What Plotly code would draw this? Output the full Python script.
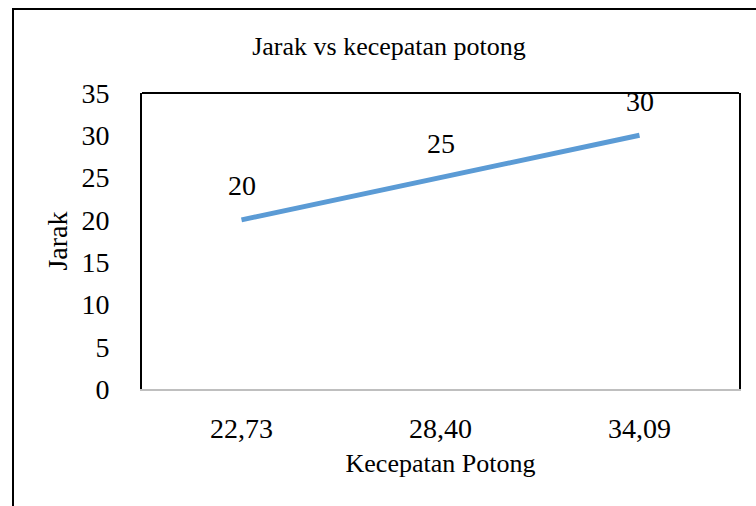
import plotly.graph_objects as go

# Cutting speed categories and measured distance
kecepatan = ["22,73", "28,40", "34,09"]
jarak = [20, 25, 30]

y_ticks = [0, 5, 10, 15, 20, 25, 30, 35]

SERIF = "Liberation Serif, Times New Roman, serif"

fig = go.Figure()
fig.add_trace(go.Scatter(
    x=kecepatan, y=jarak, mode="lines",
    line=dict(color="#5B9BD5", width=5),
    hoverinfo="skip", showlegend=False,
))

# Value labels above each point
for xv, yv in zip(kecepatan, jarak):
    fig.add_annotation(x=xv, y=yv, text=str(yv), showarrow=False,
                       yshift=34, font=dict(family=SERIF, size=28, color="black"))

fig.update_layout(
    width=756, height=506,
    margin=dict(l=142, r=17, t=93, b=117),
    paper_bgcolor="white", plot_bgcolor="white",
    font=dict(family=SERIF, color="black"),
    title=dict(text="Jarak vs kecepatan potong", x=389 / 756, xanchor="center",
               xref="container", y=1 - 46 / 506, yanchor="middle", yref="container",
               font=dict(family=SERIF, size=26, color="black")),
    xaxis=dict(type="category", range=[-0.5, 2.5], showgrid=False, zeroline=False,
               showline=True, linecolor="#BFBFBF", linewidth=1.5,
               tickfont=dict(size=28), ticks="", ticklabelstandoff=14,
               title=dict(text="Kecepatan Potong", font=dict(size=26), standoff=10)),
    yaxis=dict(range=[0, 35], tickvals=y_ticks, showgrid=False, zeroline=False,
               showline=True, linecolor="black", linewidth=2, mirror=True,
               tickfont=dict(size=28), ticks="", ticklabelstandoff=25,
               title=dict(text="Jarak", font=dict(size=28), standoff=6)),
)

# Top edge of the plot frame
fig.add_shape(type="line", xref="paper", yref="paper", x0=0, x1=1, y0=1, y1=1,
              line=dict(color="black", width=2))

# Outer chart border
fig.add_shape(type="rect", xref="paper", yref="paper",
              x0=(13 - 142) / 597, x1=(770 - 142) / 597,
              y0=(389 - 520) / 296, y1=(389 - 9) / 296,
              line=dict(color="black", width=2), fillcolor="rgba(0,0,0,0)", layer="below")

fig.write_html("out.html")
